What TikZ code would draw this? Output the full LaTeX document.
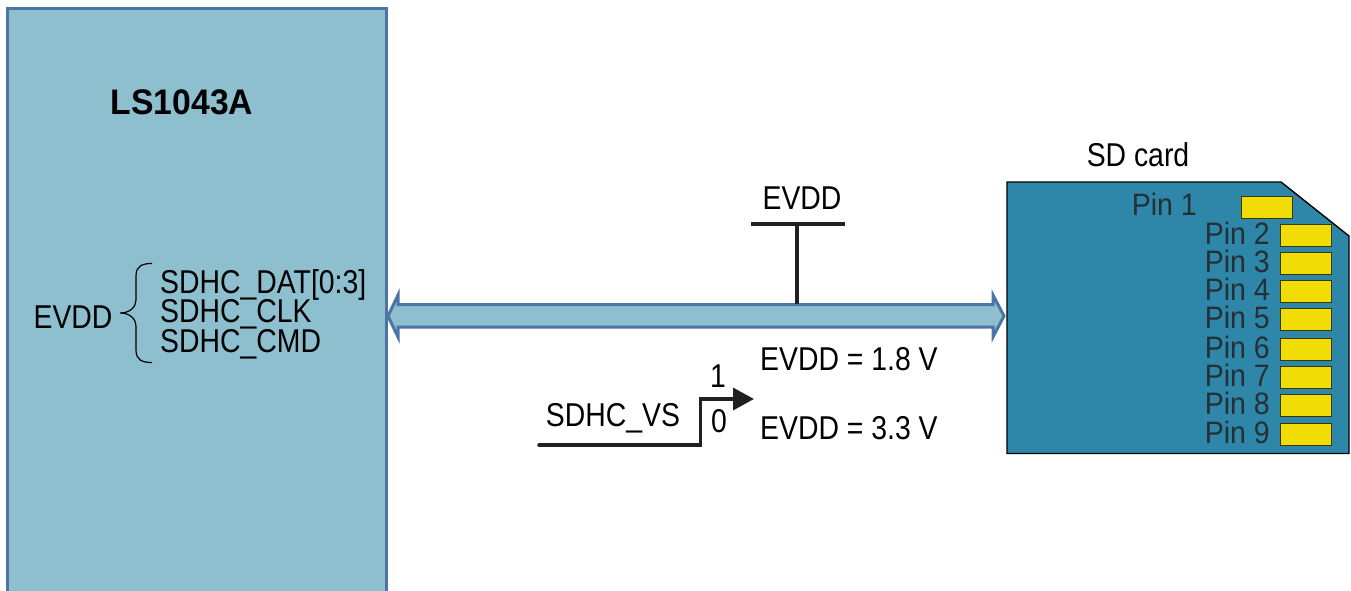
\documentclass[tikz,border=0pt]{standalone}
\usepackage{fontspec}
\setmainfont[FakeStretch=0.86]{Liberation Sans}
\newfontfamily\boldface[FakeStretch=0.95]{Liberation Sans Bold}
\newfontfamily\pinface[FakeStretch=0.92]{Liberation Sans}
\usetikzlibrary{arrows.meta,calc}
\definecolor{boxfill}{HTML}{8DBFCF}
\definecolor{boxline}{HTML}{4A75A6}
\definecolor{cardfill}{HTML}{2E87A8}
\definecolor{pinfill}{HTML}{F2DC05}
\definecolor{pintext}{HTML}{262F36}
\definecolor{wire}{HTML}{231F20}
\tikzset{
  x=1pt,y=-1pt,
  lbl/.style={inner sep=0pt,font=\fontsize{33}{33}\selectfont,text=black},
  pinlabel/.style={inner sep=0pt,font=\fontsize{31}{31}\selectfont\pinface,anchor=east,text=pintext},
  pinpad/.style={draw=black!75!pinfill,line width=1pt,fill=pinfill,minimum width=51pt,minimum height=22pt,inner sep=0pt},
  wireline/.style={draw=wire,line width=3.5pt},
  blockline/.style={draw=boxline,line width=3pt,fill=boxfill},
}
\begin{document}
\begin{tikzpicture}
\useasboundingbox (0,0) rectangle (1351,591);
% SoC block
\path[clip] (0,0) rectangle (1351,591);
\draw[blockline] (7.5,8.5) rectangle (386,620);
\node[inner sep=0pt,font=\fontsize{35.5}{35.5}\selectfont\boldface] (soc) at (182,102) {LS1043A};
\node[lbl] (evddl) at (73,317) {EVDD};
\node[lbl,anchor=west] (dat) at (160,285) {SDHC\_DAT[0:3]};
\node[lbl,anchor=west] (clk) at (160,314) {SDHC\_CLK};
\node[lbl,anchor=west] (cmd) at (160,344) {SDHC\_CMD};
\draw[black,line width=1.2pt] (152,263.5) .. controls (142,263.5) and (136,266) .. (136,276)
  -- (136,300) .. controls (136,307) and (130,313) .. (120,313)
  .. controls (130,313) and (136,319) .. (136,326)
  -- (136,350) .. controls (136,360) and (142,362.5) .. (152,362.5);
% SD card
\draw[black,line width=1.4pt,fill=cardfill] (1007,182) -- (1281,182) -- (1349,236) -- (1349,453.5) -- (1007,453.5) -- cycle;
\node[lbl] (sdt) at (1138,155) {SD card};
\node[pinpad] (p1) at (1266.5,207) {};
\node[pinlabel] (l1) at (1197,204) {Pin 1};
\foreach \n/\y in {2/235,3/263,4/291,5/319.5,6/349,7/377,8/405,9/434}{
  \node[pinpad] (p\n) at (1305.5,\y) {};
  \node[pinlabel] (l\n) at (1270,\y-2) {Pin \n};
}
% Bus
\coordinate (busL) at (388,316);
\coordinate (busR) at (1004,316);
\draw[blockline,line join=miter] (busL) -- (398,295) -- (398,304.5) -- (993,304.5) -- (993,295) -- (busR) -- (993,337) -- (993,327) -- (398,327) -- (398,337) -- cycle;
% EVDD rail
\node[lbl] (evddt) at (802,198) {EVDD};
\coordinate (barL) at (751,224);
\coordinate (barR) at (845,224);
\coordinate (barM) at (797,224);
\coordinate (tap) at (797,304);
\draw[wireline] (barL) -- (barR);
\draw[wireline] (barM) -- (tap);
% Switch
\node[lbl] (vs) at (613,418) {SDHC\_VS};
\coordinate (vsS) at (539,445);
\coordinate (vsK) at (700.5,445);
\coordinate (vsU) at (700.5,399);
\coordinate (vsE) at (754,399);
\draw[wireline,line cap=round,line join=miter,-{Triangle[length=21pt,width=22pt]}] (vsS) -- (vsK) -- (vsU) -- (vsE);
\node[lbl] (one) at (718,376) {1};
\node[lbl] (zero) at (719,421) {0};
\node[lbl,anchor=west] (e18) at (760,359) {EVDD = 1.8 V};
\node[lbl,anchor=west] (e33) at (760,428) {EVDD = 3.3 V};
\end{tikzpicture}
\end{document}
